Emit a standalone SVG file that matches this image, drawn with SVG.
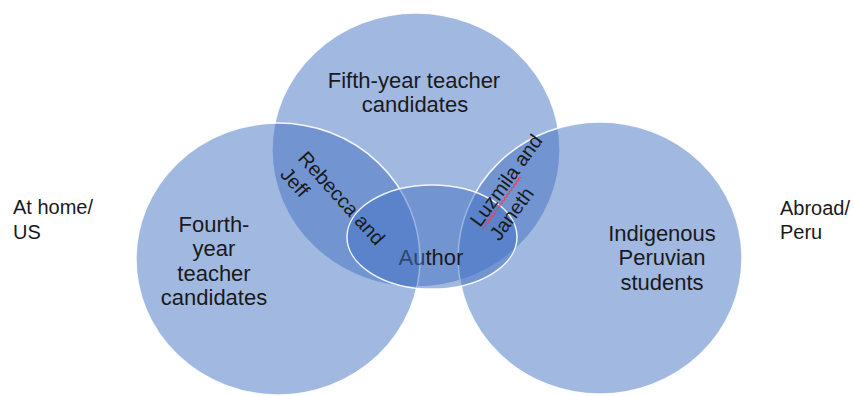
<svg xmlns="http://www.w3.org/2000/svg" width="854" height="396" viewBox="0 0 854 396">
  <style>
    .set { fill: #4472C4; fill-opacity: 0.5; stroke: #ffffff; stroke-width: 1.5; stroke-opacity: 0.9; }
    .lbl { font-family: "Liberation Sans", Arial, sans-serif; font-size: 22px; fill: #1a1a1a; text-anchor: middle; }
    .side { font-family: "Liberation Sans", Arial, sans-serif; font-size: 20px; fill: #1a1a1a; }
    .pair { font-family: "Liberation Sans", Arial, sans-serif; font-size: 20px; fill: #1a1a1a; }
    .spell { fill: none; stroke: #e2475f; stroke-width: 1.2; }
  </style>
  <rect width="854" height="396" fill="#ffffff"/>

  <!-- side captions -->
  <g id="label-home">
    <text class="side" x="13" y="214">At home/</text>
    <text class="side" x="13" y="239">US</text>
  </g>
  <g id="label-abroad">
    <text class="side" x="780" y="215">Abroad/</text>
    <text class="side" x="780" y="239">Peru</text>
  </g>

  <!-- sets -->
  <g id="fifth-year">
    <ellipse class="set" cx="416" cy="150" rx="144" ry="137"/>
    <text class="lbl" x="414" y="88">Fifth-year teacher</text>
    <text class="lbl" x="415" y="112">candidates</text>
  </g>
  <g id="fourth-year">
    <ellipse class="set" cx="278" cy="259" rx="142" ry="136"/>
    <text class="lbl" x="214" y="232">Fourth-</text>
    <text class="lbl" x="214" y="256">year</text>
    <text class="lbl" x="214" y="281">teacher</text>
    <text class="lbl" x="214" y="305">candidates</text>
  </g>
  <g id="peruvian-students">
    <ellipse class="set" cx="600" cy="258" rx="142" ry="136"/>
    <text class="lbl" x="662" y="241">Indigenous</text>
    <text class="lbl" x="662" y="265">Peruvian</text>
    <text class="lbl" x="662" y="290">students</text>
  </g>
  <g id="author">
    <ellipse class="set" cx="432" cy="237" rx="85" ry="52"/>
    <text class="lbl" x="431" y="265"><tspan fill="#2f466f">Au</tspan>thor</text>
  </g>

  <!-- overlap captions -->
  <g id="rebecca-jeff" transform="translate(297 159) rotate(48)">
    <text class="pair" x="0" y="0">Rebecca and</text>
    <text class="pair" x="0" y="24">Jeff</text>
  </g>
  <g id="luzmila-janeth" transform="translate(480 228) rotate(-54)">
    <text class="pair" x="0" y="0">Luzmila and</text>
    <path class="spell" d="M1,3.5 l2,-1.5 l2,1.5 l2,-1.5 l2,1.5 l2,-1.5 l2,1.5 l2,-1.5 l2,1.5 l2,-1.5 l2,1.5 l2,-1.5 l2,1.5 l2,-1.5 l2,1.5 l2,-1.5 l2,1.5 l2,-1.5 l2,1.5 l2,-1.5 l2,1.5 l2,-1.5 l2,1.5 l2,-1.5 l2,1.5 l2,-1.5 l2,1.5 l2,-1.5 l2,1.5 l2,-1.5 l2,1.5 l2,-1.5 l2,1.5"/>
    <text class="pair" x="0" y="24">Janeth</text>
  </g>
</svg>
